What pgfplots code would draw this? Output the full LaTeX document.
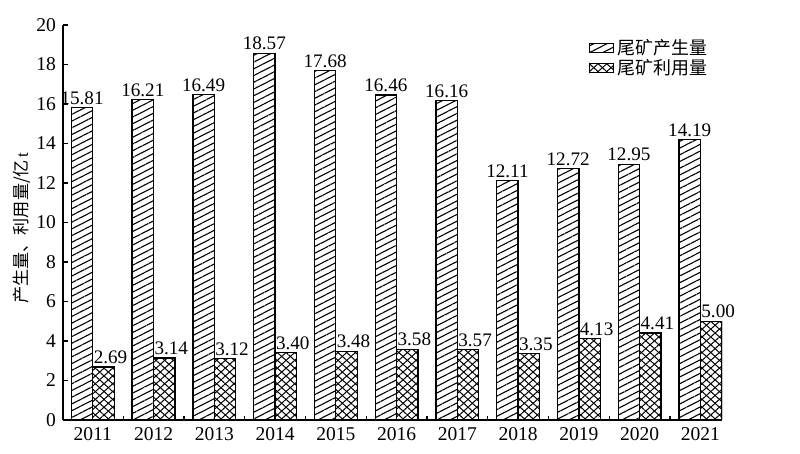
\documentclass[border=0pt]{standalone}
\usepackage{fontspec}
\setmainfont{Liberation Serif}
\newfontfamily\cjk{Noto Sans CJK SC}
\usepackage{pgfplots}
\pgfplotsset{compat=1.18}
\usetikzlibrary{patterns.meta}

\pgfplotstableread{
x  prod   used
0  15.81  2.69
1  16.21  3.14
2  16.49  3.12
3  18.57  3.40
4  17.68  3.48
5  16.46  3.58
6  16.16  3.57
7  12.11  3.35
8  12.72  4.13
9  12.95  4.41
10 14.19  5.00
}\tailings

\tikzset{
  hatchA/.style={draw=black, line width=0.65pt, fill=white,
    pattern={Lines[angle=27,distance=3.0bp,line width=0.55bp]}, pattern color=black},
  hatchB/.style={draw=black, line width=0.65pt, fill=white,
    pattern={Lines[angle=42,distance=2.9bp,line width=0.5bp]}, pattern color=black,
    postaction={pattern={Lines[angle=-42,distance=2.9bp,line width=0.5bp]}, pattern color=black}},
}

\begin{document}
\begin{tikzpicture}
\begin{axis}[
  at={(31.5bp,17bp)}, anchor=south west,
  scale only axis, width=329.5bp, height=197.5bp,
  ybar=0pt, bar width=0.353,
  xmin=-0.49, xmax=10.355, ymin=0, ymax=20,
  ytick={0,2,...,20},
  xtick={0,...,10},
  xticklabels={2011,2012,2013,2014,2015,2016,2017,2018,2019,2020,2021},
  minor xtick={0.5,1.5,...,9.5},
  major x tick style={draw=none},
  tick align=inside,
  major tick length=2.5bp, minor tick length=2.2bp,
  axis x line*=bottom, axis y line*=left,
  axis line style={-, line width=0.7pt},
  tick style={line width=0.6pt, black},
  tick label style={font=\fontsize{9.8}{11}\selectfont},
  /pgf/number format/assume math mode=true,
  every axis y label/.style={at={(axis description cs:-0.062,0.486)}, rotate=90, anchor=center,
    font=\fontsize{8.6}{10}\selectfont},
  ylabel={{\cjk 产生量、利用量/亿}\,t},
  nodes near coords,
  every node near coord/.append style={font=\fontsize{9.6}{11}\selectfont,
    /pgf/number format/fixed, /pgf/number format/fixed zerofill,
    /pgf/number format/precision=2, inner sep=1.2pt, black},
  legend style={at={(rel axis cs:0.797,0.975)}, anchor=north west, draw=none, fill=none,
    font=\cjk\fontsize{9}{10}\selectfont, row sep=-3bp, inner sep=0pt,
    /tikz/every even column/.append style={column sep=2bp}},
  legend cell align=left,
  legend image code/.code={\draw[#1] (0bp,-2.2bp) rectangle (12bp,2.4bp);},
]
\addplot[hatchA, bar shift=-0.1765] table[x=x, y=prod] {\tailings};
\addlegendentry{尾矿产生量}
\addplot[hatchB, bar shift=0.1765,
  every node near coord/.append style={xshift=3.5bp}] table[x=x, y=used] {\tailings};
\addlegendentry{尾矿利用量}
\node[font=\cjk\fontsize{9.6}{11}\selectfont, anchor=center] at (rel axis cs:1.029,-0.03) {年};
\end{axis}
\pgfresetboundingbox
\useasboundingbox (0,0) rectangle (400bp,227bp);
\end{tikzpicture}
\end{document}
